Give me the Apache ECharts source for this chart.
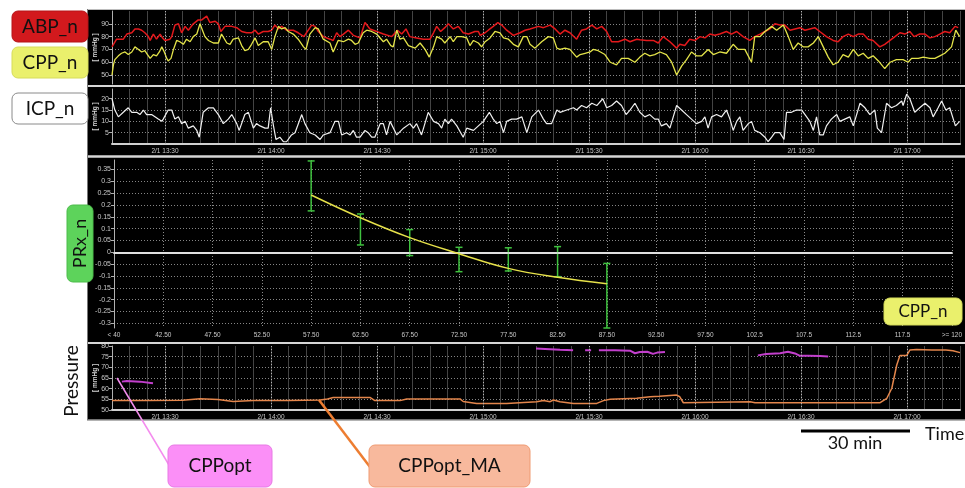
<!DOCTYPE html>
<html><head><meta charset="utf-8">
<script src="https://cdn.jsdelivr.net/npm/echarts@6/dist/echarts.min.js"></script>
<style>html,body{margin:0;padding:0;background:#fff}#c{width:965px;height:488px}</style>
</head><body><div id="c"></div><script>
// ---- tick labels ----
const timeTickMinutes = [15,45,75,105,135,165,195,225]; // minutes after 13:15
const timeTickLabels = ['2/1 13:30','2/1 14:00','2/1 14:30','2/1 15:00','2/1 15:30','2/1 16:00','2/1 16:30','2/1 17:00'];
const prxCategories = ['< 40','42.50','47.50','52.50','57.50','62.50','67.50','72.50','77.50','82.50','87.50','92.50','97.50','102.5','107.5','112.5','117.5','>= 120'];

// ---- series: [minutes after 13:15, value] ----
const abp = [[0,72],[1.3,78],[3.2,78],[4.2,82],[5.6,83],[6.5,86],[7.5,86],[8.4,85],[9.3,83],[10.3,80],[10.8,77],[11.7,82],[12.6,78],[13.6,82],[14.3,79],[15,77],[16.4,78],[16.9,80],[17.8,89],[18.8,90],[19.7,83],[20.7,88],[21.6,85],[23,90],[24.4,93],[25.4,93],[26.8,96],[27.7,91],[29.2,92],[30.1,90],[30.8,84],[32,88],[33.9,88],[35.3,87],[36.7,84],[38.1,83],[39.5,83],[40.5,85],[41.4,82],[42.8,84],[44.2,84],[45.2,85],[46.1,89],[47.1,86],[48,88],[49.4,85],[51.3,85],[52.7,83],[54.3,80],[56.5,89],[57.5,88],[58.4,84],[59.8,80],[61.7,78],[62.6,77],[63.6,83],[64.5,80],[65.5,82],[66.9,85],[68.3,81],[70.2,79],[71.6,91],[73,86],[74.9,84],[76.8,82],[79.2,80],[80.8,85],[82,82],[83.2,86],[84.3,80],[86.2,79],[88.1,78],[90,78],[91,83],[91.9,88],[93,84],[94.2,87],[95.2,90],[96.6,86],[98,88],[99.4,83],[100.9,82],[102.7,84],[103.7,84],[104.2,81],[105.6,83],[106.5,85],[107.9,88],[109.2,91],[110.3,89],[111.7,85],[113.6,81],[115.5,83],[116.9,85],[118.3,86],[120.7,88],[122.1,87],[124,89],[125.4,86],[126.8,82],[128.2,85],[129.6,83],[131.5,78],[132.9,85],[134.3,86],[135.8,89],[137.2,86],[138.6,88],[140,84],[141.4,76],[143.3,76],[145.2,78],[146.6,76],[148.5,78],[149.4,77.5],[151.3,77],[153.2,77],[154.6,75],[156,80],[157.9,76],[159.8,71],[160.7,74],[162.1,73],[163.5,78],[165,77],[166.4,80],[167.8,79],[169.2,82],[170.6,81],[172,82],[173.9,84],[175.3,82],[176.8,84],[178.6,80],[180.5,77],[181.9,80],[183.4,82],[184.8,84],[186.2,86],[187.6,90],[189,89],[190.4,89],[191.9,85],[193.3,86],[194.7,87],[196.1,85],[197.5,86],[198.9,87],[200.3,84],[202.2,80],[204.1,77],[205.5,76],[206.9,80],[208.4,82],[209.8,80],[211.2,82],[212.6,82],[214,78],[215.4,77],[217.3,72],[218.7,74],[220.2,77],[221.6,80],[223,83],[224.4,82],[225.8,84],[227,80],[228.6,82],[230.1,82],[231.5,79],[232.9,80],[234.3,82],[235.7,84],[237.1,83],[238.6,88],[239.5,87]];
const cpp = [[0,50],[0.4,58],[0.8,62],[1.8,65],[2.7,67],[3.7,68],[4.6,66],[5.6,68],[6.5,72],[7.5,70],[8.4,68],[9.3,69],[9.8,67],[10.8,63],[11.7,66],[12.6,65],[13.4,68],[14.1,72],[14.8,68],[15.5,63],[15.9,61],[16.7,63],[17.4,70],[18.3,77],[19.2,76],[20.2,74],[21.1,78],[22.1,76],[23,80],[24,82],[24.9,90],[25.6,85],[26.3,80],[27.3,77],[28.7,75],[30.1,75],[31,82],[32.5,75],[33.4,74],[34.3,78],[35.8,79],[36.7,73],[37.6,69],[38.6,70],[39.5,74],[40.5,79],[41.4,73],[42.8,76],[44.2,76],[45.2,70],[46.1,80],[47.1,88],[48,86],[49,87],[49.9,84],[51.3,82],[52.7,78],[54.2,72],[54.9,70],[56,82],[57.5,87],[58.4,86],[59.8,78],[61.7,75],[62.6,68],[64,77],[65.5,76],[66.9,78],[67.8,77],[68.8,74],[69.7,75],[71.1,83],[72.1,85],[73.5,84],[74.9,82],[76.8,76],[77.7,78],[78.9,73],[79.6,72],[80.6,85],[81.5,78],[82.5,79],[83.9,73],[85.8,71],[87.2,75],[88.6,70],[89.8,64],[91,72],[91.9,80],[93.3,78],[94.2,75],[95.7,80],[96.6,76],[97.6,80],[99,80],[100.4,79],[101.3,73],[102.3,77],[103.7,75],[104.6,72],[105.6,76],[107,79],[108.4,84],[109.8,83],[110.8,79],[112.2,78],[113.6,74],[115,72],[116.4,80],[117.4,80],[118.3,74],[119.7,71],[121.6,76],[123.5,80],[124.9,79],[125.9,71],[126.8,70],[128.2,71],[129.6,70],[131.5,64],[132.5,66],[133.9,67],[135.3,68],[136.2,70],[137.6,69],[139.5,66],[141,60],[142.8,58],[144.2,63],[146.1,63],[148,60],[149.4,64],[150.8,67],[152.2,65],[153.6,66],[155.1,68],[156.9,66],[158.4,60],[159.8,50],[161.2,57],[162.6,62],[164,68],[165.4,65],[166.9,65],[168.7,70],[170.2,66],[172,68],[173.9,67],[175.8,74],[177.2,70],[179.1,70],[181,60],[181.9,80],[183.4,80],[184.8,84],[186.7,88],[188.1,85],[190,89],[191.4,80],[192.8,70],[194.2,75],[195.6,72],[197,72],[198.5,75],[199.9,80],[201.3,72],[202.7,64],[204.1,58],[205.5,60],[206.9,66],[208.4,64],[209.8,70],[211.2,65],[212.6,67],[214,63],[215.4,65],[216.9,61],[218.7,55],[220.2,60],[222,62],[223.9,62],[225.3,60],[226.3,63],[228.2,63],[229.6,64],[231.5,63],[232.9,63],[234.3,65],[235.7,67],[237.6,72],[238.8,85],[239.9,80]];
const icp = [[0,20],[0.8,15],[1.8,12],[3.2,14],[4.6,16],[5.6,14],[7,14],[7.9,13],[8.9,15],[9.8,13],[11.2,13],[13.1,11],[14.1,10],[14.5,11],[15.9,15],[16.9,15],[17.8,11],[18.8,12],[19.7,9],[20.7,10],[21.6,7],[23,8],[24,6],[24.7,3],[25.8,14],[27.3,16],[28.7,16],[30.1,13],[31.5,9],[32.9,11],[33.9,13],[35.3,9],[36,6],[37.6,13],[38.6,14],[40,7],[40.9,9],[41.9,8],[43.3,7],[44.2,7],[44.9,16],[45.7,8],[46.4,2],[47.5,3],[48.5,1],[49.4,1],[50.8,4],[51.8,5],[53.7,13],[54.6,9],[56,5],[57.5,4],[58.9,2],[59.8,4],[61.7,5],[63.1,10],[64.1,10],[65,4],[66.4,5],[67.4,4],[68.3,6],[69.2,3],[70.2,3],[71.6,6],[72.5,5],[73.5,3],[74.4,3],[75.9,9],[76.8,9],[77.7,4],[78.7,10],[80.6,4],[82.5,7],[84.3,9],[85.3,7],[86.2,9],[87.6,4],[89.5,14],[91,10],[92.4,9],[93.3,7],[94.2,11],[95.2,9],[96.1,11],[97.6,8],[99.4,3],[100.4,7],[102.3,6],[103.7,8],[105.1,10],[106.8,14],[107.9,11],[108.9,9],[109.8,10],[110.8,5],[111.7,10],[113.1,11],[114.5,11],[116,12],[117.4,5],[118.8,12],[120.7,15],[122.1,11],[123,9],[124.4,9],[125.9,15],[126.8,14],[128.7,15],[130.6,16],[131.5,15],[132.9,17],[134.3,16],[135.8,18],[137.2,17],[138.9,20],[140,16],[141.4,17],[142.8,19],[144.2,17],[145.5,13],[146.6,15],[148,18],[149.4,14],[150.8,12],[152.2,13],[153.6,11],[154.6,11],[155.5,8],[156.9,9],[157.9,7],[159.8,17],[161.2,15],[162.6,13],[164,11],[165.4,9],[166.9,10],[167.8,12],[168.7,7],[169.7,12],[171.1,13],[172.5,12],[173.9,15],[174.9,11],[175.8,6],[176.8,10],[177.7,12],[178.6,6],[180.1,9],[181,10],[181.9,6],[183.4,5],[184.8,3],[185.7,1],[186.7,3],[187.6,5],[189,5],[190.2,2],[190.9,14],[192.3,14],[193.7,15],[195.2,15],[196.6,12],[197.5,10],[198.5,6],[199.4,12],[200.3,4],[201.3,4],[202.2,8],[203.6,11],[205.1,13],[206,10],[207.4,11],[208.8,12],[209.8,8],[211.7,18],[213.1,16],[214.5,13],[215.9,15],[216.6,7],[217.8,5],[219.2,18],[220.6,16],[222,17],[223.5,19],[223.9,17],[224.9,22],[225.8,20],[227.2,14],[228.6,16],[230.1,18],[231.5,16],[232.4,12],[233.8,16],[234.8,19],[236,15],[237.1,16],[238.7,8],[239.9,10]];
const cppOpt = [[2.8,63.3],[4.2,63.6],[7.9,63.3],[11.6,62.5],[12,'-'],[120,78.8],[122.6,78.6],[126.8,78.2],[130.5,78.0],[131,'-'],[133.9,78.0],[135.6,78.0],[136.5,'-'],[137.8,78.0],[142.4,78.0],[146.6,77.8],[148,76.6],[149.4,77.2],[151.5,77.3],[153.1,76.3],[154.3,76.9],[156.5,77.2],[157,'-'],[182.8,75.6],[185.1,76.2],[189.1,76.6],[191.3,77.3],[193.3,76.5],[194.7,75.4],[197,75.4],[200.4,75.3],[202.7,75.1]];
const cppOptMA = [[0,54.4],[10,54.5],[20,54.6],[24.9,55.3],[30,54.9],[34.3,54.0],[40,54.4],[50,54.5],[58.9,54.7],[61,55.2],[62.6,55.9],[73,55.9],[74.4,54.4],[81.5,54.4],[83.4,55.2],[98.5,55.2],[99.4,54.0],[103.2,53.1],[111.7,53.1],[120.2,53.9],[122.1,54.4],[124,53.9],[124.9,54.7],[126.8,53.9],[130.6,53.1],[137.2,53.1],[139.1,54.4],[141,55.0],[148.5,55.5],[152.3,56.2],[155,56.4],[159.8,57.0],[160.7,56.2],[161.7,53.4],[180.6,53.9],[182,53.4],[217.4,53.4],[219.3,55.5],[220.7,60.2],[222.1,71.1],[223,75.5],[224.9,75.5],[225.8,78.1],[227.7,78.4],[232,78.1],[236,78.1],[238,77.8],[240,76.9]];
// PRx vs CPP bins
const prxBins = ['57.50','62.50','67.50','72.50','77.50','82.50','87.50'];
const prxFit  = [0.242, 0.146, 0.062, -0.006, -0.068, -0.106, -0.133];
const prxLow  = [0.175, 0.031, -0.014, -0.082, -0.079, -0.103, -0.32];
const prxHigh = [0.386, 0.162, 0.096, 0.021, 0.019, 0.024, -0.047];

const LBL = {color:'#c8c8c8', fontSize:7, fontFamily:'Liberation Sans'};
const HGRID = {show:true, lineStyle:{color:'#858585', type:[1,2], width:1}};
const VGRID = {show:true, lineStyle:{color:'#444444', type:'solid', width:1}};
const timeFmt = v => { const i = timeTickMinutes.indexOf(v); return i < 0 ? '' : timeTickLabels[i]; };
const majorLines = {silent:true, symbol:'none', label:{show:false}, animation:false,
  lineStyle:{color:'#b4b4b4', type:[1,2], width:1}, data:timeTickMinutes.map(v=>({xAxis:v}))};
function timeAxis(g, labels){
  return {type:'value', gridIndex:g, min:0, max:240, interval:5,
    axisLine:{show:labels, lineStyle:{color:'#d0d0d0', width:2}}, axisTick:{show:false},
    axisLabel:{show:labels, formatter:timeFmt, margin:4, ...LBL, fontSize:6.5},
    splitLine:VGRID};
}
function yAx(g, o){
  return Object.assign({type:'value', gridIndex:g,
    axisLine:{show:true, lineStyle:{color:'#b0b0b0', width:1}},
    axisTick:{show:true, length:3, lineStyle:{color:'#b0b0b0'}},
    axisLabel:Object.assign({margin:3, showMinLabel:false, showMaxLabel:false}, LBL),
    splitLine:Object.assign({showMinLine:false, showMaxLine:false}, HGRID),
    nameLocation:'middle', nameRotate:90, nameGap:13, nameMoveOverlap:false,
    nameTextStyle:{color:'#d4d4d4', fontSize:6.5, fontWeight:'bold', fontFamily:'Liberation Sans'}}, o);
}

const chart = echarts.init(document.getElementById('c'), null, {renderer:'canvas'});
const F = 'Lato';
function box(x,y,w,h,fill,stroke,text,fs,rot){
  const els = [{type:'rect', z:100, shape:{x:x,y:y,width:w,height:h,r:6}, style:{fill:fill, stroke:stroke, lineWidth:1}}];
  const t = {type:'text', z:101, x:x+w/2, y:y+h/2, style:{text:text, font:fs+'px '+F, fill:'#111', align:'center', verticalAlign:'middle', textAlign:'center', textVerticalAlign:'middle'}};
  if (rot) t.rotation = Math.PI/2;
  els.push(t);
  return els;
}
function txt(x,y,text,fs,align,rot){
  const t = {type:'text', z:101, x:x, y:y, style:{text:text, font:fs+'px '+F, fill:'#111', align:align, verticalAlign:'middle', textAlign:align, textVerticalAlign:'middle'}};
  if (rot) t.rotation = Math.PI/2;
  return t;
}
function hline(x1,x2,y,color,w){ return {type:'line', z:90, shape:{x1:x1,y1:y,x2:x2,y2:y}, style:{stroke:color, lineWidth:w}}; }

const graphics = [
  {type:'rect', z:-10, shape:{x:87,y:9,width:878,height:411}, style:{fill:'#000'}},
  hline(87,965,9.5,'#bdbdbd',1),
  hline(87,965,86,'#d6d6d6',2),
  hline(87,965,156.5,'#d6d6d6',2.5),
  hline(87,965,343,'#d6d6d6',2),
  hline(87,965,420,'#9a9a9a',1.5),
  {type:'line', z:90, shape:{x1:87.5,y1:9,x2:87.5,y2:420}, style:{stroke:'#777', lineWidth:1}},
  ...box(12,11,76,31,'#d2191d','#b51418','ABP_n',19),
  ...box(12,47,76,31,'#eaf06c','#d6dc5a','CPP_n',19),
  ...box(12,93,76,31,'#ffffff','#8a8a8a','ICP_n',19),
  ...box(67,205,26,77,'#5dd35b','#4cbc4a','PRx_n',18,true),
  ...box(884,298,78,27,'#eaf06c','#d6dc5a','CPP_n',17),
  txt(72,381,'Pressure',19,'center',true),
  {type:'line', z:100, shape:{x1:117,y1:378,x2:169,y2:465}, style:{stroke:'#f48cee', lineWidth:1.5}},
  {type:'line', z:100, shape:{x1:319,y1:400,x2:370,y2:467}, style:{stroke:'#ed7d31', lineWidth:2.5}},
  ...box(168,445,104,42,'#fb8ff7','#e77ae4','CPPopt',19),
  ...box(369,445,161,42,'#f8b99d','#ef9b73','CPPopt_MA',19),
  {type:'line', z:100, shape:{x1:801,y1:431,x2:910,y2:431}, style:{stroke:'#000', lineWidth:3}},
  txt(855,443,'30 min',18,'center'),
  txt(925,434,'Time',18,'left')
];

const option = {
  backgroundColor:'#ffffff',
  animation:false,
  grid:[
    {left:112, top:11, width:848, height:73},
    {left:112, top:89, width:848, height:55},
    {left:114, top:160, width:844, height:168},
    {left:112, top:346, width:848, height:64}
  ],
  xAxis:[
    timeAxis(0,false),
    timeAxis(1,true),
    {type:'category', gridIndex:2, data:prxCategories, boundaryGap:false,
     axisLine:{show:true, lineStyle:{color:'#d0d0d0', width:2}}, axisTick:{show:false},
     axisLabel:{interval:0, margin:4, ...LBL, fontSize:6.5}, splitLine:{show:true, interval:0, lineStyle:{color:'#8a8a8a', type:[1,2]}}},
    timeAxis(3,true)
  ],
  yAxis:[
    yAx(0,{min:43, max:100, splitNumber:5, name:'[ mmHg ]'}),
    yAx(1,{min:0, max:24.3, interval:5, name:'[ mmHg ]'}),
    yAx(2,{min:-0.32, max:0.39, splitNumber:14}),
    yAx(3,{min:50, max:80, interval:5, name:'[ mmHg ]', axisLabel:Object.assign({margin:3}, LBL)})
  ],
  graphic:graphics,
  series:[
    {type:'line', xAxisIndex:0, yAxisIndex:0, data:abp, showSymbol:false, lineStyle:{color:'#e3191c', width:1.5}, z:3, markLine:majorLines},
    {type:'line', xAxisIndex:0, yAxisIndex:0, data:cpp, showSymbol:false, lineStyle:{color:'#e4e44a', width:1.3}, z:4},
    {type:'line', xAxisIndex:1, yAxisIndex:1, data:icp, showSymbol:false, lineStyle:{color:'#f0f0f0', width:1.2}, markLine:majorLines},
    {type:'line', xAxisIndex:2, yAxisIndex:2, data:prxBins.map((b,i)=>[b, prxFit[i]]), showSymbol:false, smooth:0.4,
     lineStyle:{color:'#e6e14a', width:1.5}, z:5,
     markLine:{silent:true, symbol:'none', label:{show:false}, lineStyle:{color:'#e6e6e6', width:1.5, type:'solid'}, data:[{yAxis:0}]}},
    {type:'custom', xAxisIndex:2, yAxisIndex:2, z:4,
     data:prxBins.map((b,i)=>[b, prxLow[i], prxHigh[i]]),
     encode:{x:0, y:[1,2]},
     renderItem:(params, api)=>{
       const x = api.value(0);
       const p1 = api.coord([x, api.value(2)]), p2 = api.coord([x, api.value(1)]);
       const w = 3.5, st = {stroke:'#3fc23f', lineWidth:1.5};
       return {type:'group', children:[
         {type:'line', shape:{x1:p1[0],y1:p1[1],x2:p2[0],y2:p2[1]}, style:st},
         {type:'line', shape:{x1:p1[0]-w,y1:p1[1],x2:p1[0]+w,y2:p1[1]}, style:st},
         {type:'line', shape:{x1:p2[0]-w,y1:p2[1],x2:p2[0]+w,y2:p2[1]}, style:st}
       ]};
     }},
    {type:'line', xAxisIndex:3, yAxisIndex:3, data:cppOpt, showSymbol:false, connectNulls:false, lineStyle:{color:'#c23fcc', width:2}},
    {type:'line', xAxisIndex:3, yAxisIndex:3, data:cppOptMA, showSymbol:false, lineStyle:{color:'#e4864c', width:1.5}, markLine:majorLines}
  ]
};
chart.setOption(option);
</script></body></html>
